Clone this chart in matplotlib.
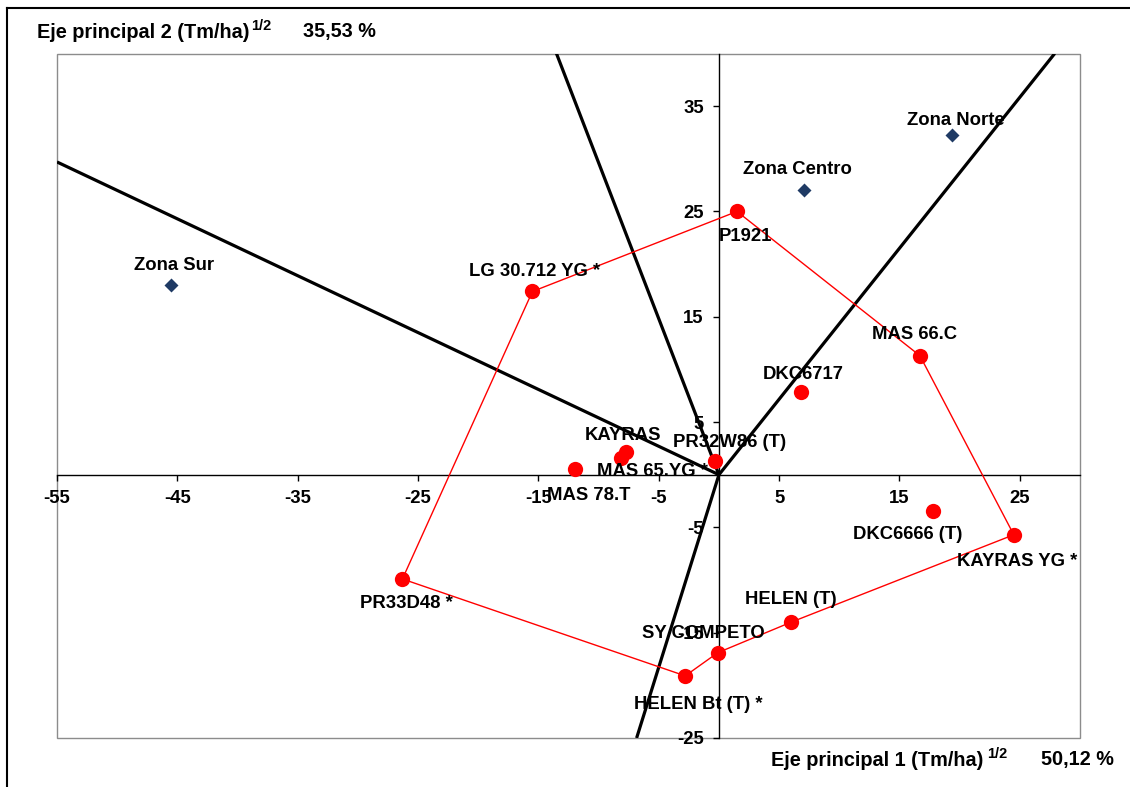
import matplotlib
matplotlib.use('Agg')
import matplotlib.pyplot as plt
from matplotlib.patches import Rectangle
from matplotlib.lines import Line2D

plt.rcParams['font.family'] = ['Liberation Sans', 'DejaVu Sans']
plt.rcParams['font.weight'] = 'bold'

# ---------------- data ----------------
env_names = ['Zona Norte', 'Zona Centro', 'Zona Sur']
env_x = [19.4, 7.1, -45.5]
env_y = [32.3, 27.0, 18.0]

gen_names = ['P1921', 'LG 30.712 YG *', 'MAS 66.C', 'DKC6717', 'PR32W86 (T)',
             'KAYRAS', 'MAS 65.YG *', 'MAS 78.T', 'DKC6666 (T)', 'KAYRAS YG *',
             'HELEN (T)', 'SY COMPETO', 'HELEN Bt (T) *', 'PR33D48 *']
gen_x = [1.5, -15.5, 16.7, 6.8, -0.3, -7.7, -8.1, -12.0, 17.8, 24.5, 6.0, -0.1, -2.8, -26.3]
gen_y = [25.0, 17.4, 11.3, 7.9, 1.3, 2.2, 1.6, 0.5, -3.4, -5.7, -14.0, -16.9, -19.1, -9.9]

hull_order = ['P1921', 'MAS 66.C', 'KAYRAS YG *', 'HELEN (T)', 'SY COMPETO',
              'HELEN Bt (T) *', 'PR33D48 *', 'LG 30.712 YG *', 'P1921']

ray_end_x = [-55, -13.5, 27.9, -6.84]
ray_end_y = [29.7, 40, 40, -25]

x_ticks = [-55, -45, -35, -25, -15, -5, 5, 15, 25]
y_ticks = [-25, -15, -5, 5, 15, 25, 35]
x_tick_labels = ['-55', '-45', '-35', '-25', '-15', '-5', '5', '15', '25']
y_tick_labels = ['-25', '-15', '-5', '5', '15', '25', '35']

title_y = 'Eje principal 2 (Tm/ha)'
title_x = 'Eje principal 1 (Tm/ha)'
title_sup = '1/2'
pct_y = '35,53 %'
pct_x = '50,12 %'

# label offsets in pixels (dx right, dy down)
env_off = {'Zona Norte': (3, -14), 'Zona Centro': (-7, -21), 'Zona Sur': (3, -20)}
gen_off = {'P1921': (8, 25), 'LG 30.712 YG *': (2, -20), 'MAS 66.C': (-5, -21),
           'DKC6717': (2, -17), 'PR32W86 (T)': (14, -19), 'KAYRAS': (-3, -16),
           'MAS 65.YG *': (31, 14), 'MAS 78.T': (14, 26), 'DKC6666 (T)': (-25, 24),
           'KAYRAS YG *': (3, 27), 'HELEN (T)': (0, -23), 'SY COMPETO': (-14, -19),
           'HELEN Bt (T) *': (13, 29), 'PR33D48 *': (4, 25)}

W, H = 1130, 787
fig = plt.figure(figsize=(W / 100, H / 100), dpi=100)
fig.patch.set_facecolor('white')

ax = fig.add_axes([57 / W, 1 - 738 / H, (1080 - 57) / W, (738 - 53.5) / H])
ax.set_xlim(-55, 30)
ax.set_ylim(-25, 40)

for s in ['top', 'right']:
    ax.spines[s].set_visible(False)
ax.spines['left'].set_position(('data', 0))
ax.spines['bottom'].set_position(('data', 0))
ax.spines['left'].set_color('black')
ax.spines['bottom'].set_color('black')
ax.spines['left'].set_linewidth(1.0)
ax.spines['bottom'].set_linewidth(1.0)
ax.add_patch(Rectangle((0, 0), 1, 1, transform=ax.transAxes, fill=False,
                       edgecolor='#8c8c8c', lw=1.0, clip_on=False, zorder=1))

ax.set_xticks(x_ticks)
ax.set_xticklabels(x_tick_labels, fontweight='bold')
ax.set_yticks(y_ticks)
ax.set_yticklabels(y_tick_labels, fontweight='bold')
ax.tick_params(axis='both', direction='out', length=4, width=1, labelsize=13.3,
               pad=7, color='black')

# rays from origin
for ex, ey in zip(ray_end_x, ray_end_y):
    ax.plot([0, ex], [0, ey], color='black', lw=2.3, zorder=3, solid_capstyle='butt')

# polygon
idx = {n: i for i, n in enumerate(gen_names)}
px = [gen_x[idx[n]] for n in hull_order]
py = [gen_y[idx[n]] for n in hull_order]
ax.plot(px, py, color='#ff0000', lw=1.0, zorder=4)

# genotypes
ax.plot(gen_x, gen_y, 'o', color='#ff0000', ms=11, mec='none', zorder=5, clip_on=False)
# environments
ax.plot(env_x, env_y, 'D', color='#1f3a64', ms=7.5, mec='none', zorder=5)

for n, x, y in zip(gen_names, gen_x, gen_y):
    dx, dy = gen_off[n]
    ax.annotate(n, (x, y), xytext=(dx * 0.72, -dy * 0.72), textcoords='offset points',
                ha='center', va='center', fontsize=13.3, fontweight='bold', zorder=6)
for n, x, y in zip(env_names, env_x, env_y):
    dx, dy = env_off[n]
    ax.annotate(n, (x, y), xytext=(dx * 0.72, -dy * 0.72), textcoords='offset points',
                ha='center', va='center', fontsize=13.3, fontweight='bold', zorder=6)

# axis titles (main text + superscript + percentage)
def fx(p):
    return p / W

def fy(p):
    return 1 - p / H

fig.text(fx(37), fy(37.5), title_y, ha='left', va='baseline', fontsize=14.3, fontweight='bold')
fig.text(fx(251), fy(29.5), title_sup, ha='left', va='baseline', fontsize=10.5, fontweight='bold')
fig.text(fx(303), fy(37.5), pct_y, ha='left', va='baseline', fontsize=14.3, fontweight='bold')
fig.text(fx(771), fy(765.5), title_x, ha='left', va='baseline', fontsize=14.3, fontweight='bold')
fig.text(fx(987), fy(757.5), title_sup, ha='left', va='baseline', fontsize=10.5, fontweight='bold')
fig.text(fx(1041), fy(765.5), pct_x, ha='left', va='baseline', fontsize=14.3, fontweight='bold')

# outer chart border (partially visible)
fig.add_artist(Line2D([7 / W, 7 / W], [0, 1 - 8 / H], color='black', lw=1.5))
fig.add_artist(Line2D([7 / W, 1], [1 - 8 / H, 1 - 8 / H], color='black', lw=1.5))

fig.savefig('out.png', dpi=100)
